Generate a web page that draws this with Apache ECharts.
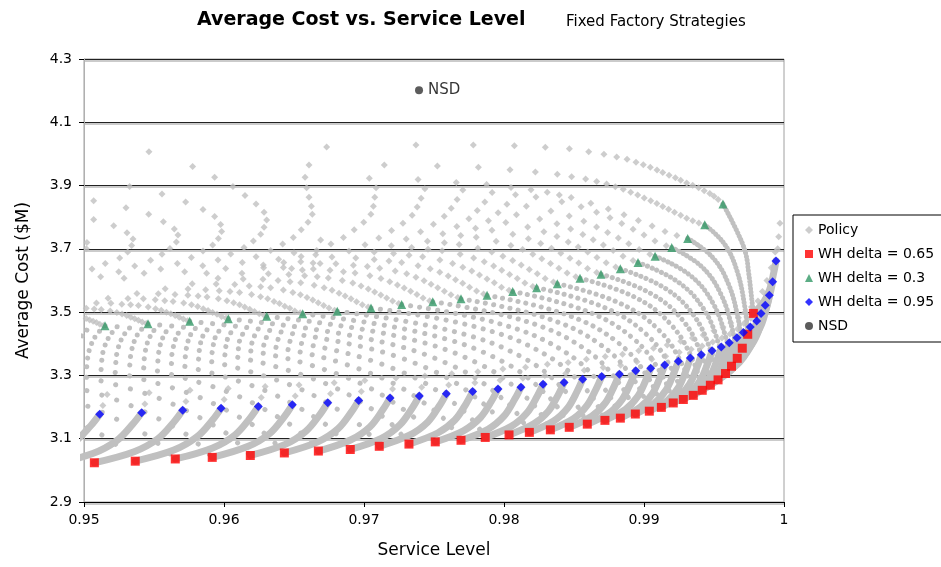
<!DOCTYPE html>
<html><head><meta charset="utf-8">
<script src="https://cdn.jsdelivr.net/npm/echarts/dist/echarts.min.js"></script>
<style>html,body{margin:0;padding:0;background:#fff}#c{width:941px;height:567px}</style>
</head><body><div id="c"></div><script>
// ---- coloured series ----
const redPoints = [[0.95074,3.024],[0.95366,3.029],[0.95652,3.036],[0.95916,3.041],[0.96188,3.047],[0.96431,3.055],[0.96674,3.061],[0.96902,3.066],[0.97109,3.076],[0.97321,3.083],[0.97509,3.090],[0.97693,3.095],[0.97866,3.104],[0.98036,3.112],[0.98181,3.120],[0.98331,3.128],[0.98466,3.136],[0.98595,3.146],[0.98721,3.158],[0.98831,3.165],[0.98938,3.178],[0.99038,3.187],[0.99124,3.199],[0.99209,3.213],[0.99281,3.224],[0.99352,3.237],[0.99416,3.253],[0.99474,3.269],[0.99529,3.286],[0.99582,3.306],[0.99625,3.329],[0.99666,3.354],[0.99702,3.386],[0.99741,3.430],[0.99781,3.496]];
const bluePoints = [[0.95112,3.177],[0.95412,3.182],[0.95705,3.190],[0.95979,3.196],[0.96245,3.202],[0.96488,3.207],[0.96741,3.214],[0.96962,3.221],[0.97186,3.229],[0.97395,3.235],[0.97588,3.242],[0.97776,3.249],[0.97957,3.257],[0.98121,3.263],[0.98279,3.272],[0.98429,3.278],[0.98562,3.288],[0.98698,3.297],[0.98824,3.304],[0.98941,3.315],[0.99048,3.323],[0.99148,3.333],[0.99245,3.345],[0.99331,3.355],[0.99409,3.365],[0.99486,3.378],[0.99552,3.390],[0.99609,3.403],[0.99664,3.419],[0.99710,3.436],[0.99759,3.453],[0.99805,3.472],[0.99836,3.496],[0.99866,3.522],[0.99895,3.553],[0.99919,3.596],[0.99943,3.662]];
const greenPoints = [[0.95150,3.457],[0.95457,3.463],[0.95755,3.471],[0.96031,3.479],[0.96305,3.487],[0.96562,3.495],[0.96809,3.503],[0.97050,3.513],[0.97269,3.524],[0.97491,3.533],[0.97693,3.542],[0.97879,3.553],[0.98062,3.565],[0.98233,3.577],[0.98381,3.590],[0.98543,3.607],[0.98693,3.620],[0.98831,3.637],[0.98957,3.657],[0.99079,3.677],[0.99198,3.704],[0.99312,3.733],[0.99434,3.776],[0.99564,3.842]];
const nsdPoint = [[0.97393,4.201]];

// ---- grey policy points: sparse upper-left area ----
const policyUpperLeft = [[0.95464,4.007],[0.95776,3.96],[0.95933,3.926],[0.96607,3.965],[0.96579,3.926],[0.9659,3.893],[0.96607,3.863],[0.96624,3.835],[0.96631,3.809],[0.966,3.784],[0.96552,3.76],[0.96495,3.736],[0.96419,3.715],[0.96333,3.695],[0.9669,3.728],[0.96655,3.681],[0.96686,3.654],
[0.95069,3.852],[0.95069,3.793],[0.95212,3.773],[0.95021,3.72],[0.95017,3.7],
[0.953,3.83],[0.95326,3.897],[0.95307,3.751],[0.9535,3.731],[0.9534,3.711],[0.95312,3.69],[0.95255,3.671],[0.95152,3.654],[0.95057,3.636],[0.95119,3.612],[0.95248,3.628],[0.95286,3.607],[0.95362,3.646],
[0.95557,3.873],[0.95462,3.809],[0.95567,3.786],[0.95645,3.763],[0.95671,3.744],[0.9566,3.722],[0.95614,3.701],[0.95557,3.683],[0.95476,3.664],[0.95429,3.623],[0.95548,3.636],[0.95667,3.654],[0.95719,3.628],
[0.95726,3.848],[0.9585,3.824],[0.95933,3.802],[0.95976,3.777],[0.95983,3.755],[0.9596,3.733],[0.95919,3.712],[0.9585,3.693],[0.95767,3.673],[0.95848,3.647],[0.95876,3.623],[0.95957,3.665],[0.96012,3.638],
[0.96064,3.897],[0.9615,3.869],[0.96229,3.842],[0.96286,3.816],[0.96305,3.791],[0.96286,3.768],[0.96262,3.746],[0.9621,3.725],[0.96143,3.704],[0.96048,3.684],[0.96131,3.657],[0.96229,3.675],[0.96281,3.649],[0.9639,3.667],[0.96424,3.641],[0.965,3.688],[0.96548,3.659],[0.9656,3.633]];

// ---- grey policy points: upper arcs, one per strategy, ending at the green point ----
const policyArcsHigh = [
[[0.96733,4.022],[0.97371,4.028],[0.97781,4.028],[0.98074,4.026],[0.98295,4.021],[0.98467,4.016],[0.98605,4.007],[0.98714,3.999],[0.98805,3.990],[0.98879,3.983],[0.98943,3.974],[0.98995,3.966],[0.99045,3.958],[0.99093,3.949],[0.99134,3.941],[0.99179,3.933],[0.99224,3.925],[0.99262,3.917],[0.99305,3.908],[0.99348,3.901],[0.9939,3.893],[0.9943,3.884],[0.9947,3.875],[0.995,3.866],[0.9953,3.856]],
[[0.97145,3.965],[0.97524,3.962],[0.97817,3.958],[0.98043,3.950],[0.98224,3.943],[0.98381,3.936],[0.98483,3.928],[0.98583,3.921],[0.98662,3.913],[0.98733,3.905],[0.98795,3.896],[0.98852,3.888],[0.98905,3.879],[0.98955,3.870],[0.99002,3.861],[0.99048,3.852],[0.99092,3.843],[0.99134,3.834],[0.99176,3.825],[0.99218,3.816],[0.99262,3.806],[0.99305,3.797],[0.99348,3.789],[0.99392,3.782]],
[[0.97038,3.923],[0.97386,3.919],[0.97659,3.910],[0.97876,3.903],[0.9805,3.894],[0.98193,3.887],[0.98309,3.879],[0.98395,3.870],[0.9848,3.862],[0.9862,3.844],[0.98745,3.826],[0.98857,3.808],[0.9896,3.79],[0.99058,3.772],[0.9915,3.755],[0.99235,3.742]],
[[0.97086,3.893],[0.97435,3.89],[0.97706,3.886],[0.97915,3.878],[0.98082,3.871],[0.98228,3.864],[0.98413,3.849],[0.98551,3.833],[0.98661,3.816],[0.98757,3.798],[0.98841,3.78],[0.98922,3.762],[0.99,3.744],[0.99078,3.725],[0.99159,3.71]],
[[0.97077,3.863],[0.97408,3.86],[0.97665,3.856],[0.97863,3.848],[0.98021,3.841],[0.9816,3.835],[0.98335,3.82],[0.98466,3.804],[0.9857,3.787],[0.98661,3.769],[0.9874,3.752],[0.98817,3.734],[0.98891,3.716],[0.98965,3.698],[0.99042,3.683]],
[[0.97067,3.835],[0.9738,3.832],[0.97623,3.828],[0.97809,3.821],[0.97958,3.814],[0.98089,3.808],[0.98255,3.794],[0.98378,3.779],[0.98476,3.763],[0.98563,3.745],[0.98637,3.729],[0.9871,3.712],[0.9878,3.695],[0.9885,3.677],[0.98922,3.663]],
[[0.97049,3.809],[0.97344,3.806],[0.97573,3.803],[0.97749,3.795],[0.97889,3.789],[0.98013,3.783],[0.98169,3.769],[0.98285,3.754],[0.98378,3.739],[0.98459,3.722],[0.9853,3.706],[0.98598,3.69],[0.98664,3.673],[0.9873,3.656],[0.98798,3.643]],
[[0.96998,3.784],[0.97278,3.781],[0.97496,3.778],[0.97663,3.771],[0.97797,3.765],[0.97914,3.759],[0.98063,3.746],[0.98174,3.732],[0.98262,3.717],[0.98339,3.702],[0.98406,3.686],[0.98471,3.67],[0.98534,3.655],[0.98597,3.638],[0.98662,3.625]],
[[0.9693,3.76],[0.97197,3.758],[0.97404,3.754],[0.97563,3.748],[0.97691,3.742],[0.97802,3.737],[0.97944,3.724],[0.98049,3.711],[0.98133,3.698],[0.98206,3.683],[0.9827,3.669],[0.98332,3.654],[0.98392,3.639],[0.98451,3.624],[0.98513,3.612]],
[[0.96853,3.736],[0.97106,3.734],[0.97302,3.731],[0.97453,3.724],[0.97574,3.719],[0.9768,3.714],[0.97813,3.702],[0.97913,3.69],[0.97992,3.677],[0.98062,3.663],[0.98123,3.649],[0.98181,3.635],[0.98238,3.621],[0.98294,3.606],[0.98353,3.595]],
[[0.96764,3.715],[0.97007,3.713],[0.97195,3.71],[0.9734,3.704],[0.97457,3.699],[0.97558,3.694],[0.97687,3.683],[0.97783,3.671],[0.97859,3.659],[0.97926,3.646],[0.97984,3.632],[0.9804,3.619],[0.98095,3.606],[0.98149,3.592],[0.98206,3.581]],
[[0.96662,3.695],[0.96893,3.693],[0.97073,3.69],[0.97211,3.685],[0.97322,3.68],[0.97419,3.675],[0.97542,3.665],[0.97633,3.654],[0.97706,3.642],[0.9777,3.63],[0.97825,3.617],[0.97879,3.605],[0.97931,3.593],[0.97982,3.579],[0.98036,3.569]]
];
const policyArcsLow = [
[[0.96551,3.676],[0.96771,3.674],[0.96941,3.671],[0.97073,3.666],[0.97178,3.662],[0.97269,3.657],[0.97386,3.647],[0.97473,3.637],[0.97541,3.626],[0.97602,3.614],[0.97654,3.602],[0.97705,3.591],[0.97754,3.579],[0.97804,3.567],[0.97854,3.557]],
[[0.96427,3.657],[0.96636,3.655],[0.96799,3.653],[0.96924,3.648],[0.97024,3.644],[0.97112,3.639],[0.97223,3.63],[0.97305,3.621],[0.97371,3.61],[0.97429,3.599],[0.97479,3.588],[0.97527,3.577],[0.97574,3.566],[0.97621,3.555],[0.9767,3.546]],
[[0.96283,3.64],[0.96483,3.638],[0.96638,3.636],[0.96757,3.632],[0.96853,3.628],[0.96936,3.624],[0.97042,3.615],[0.97121,3.606],[0.97184,3.596],[0.97239,3.586],[0.97287,3.576],[0.97333,3.566],[0.97378,3.556],[0.97422,3.545],[0.97469,3.536]],
[[0.96128,3.623],[0.96317,3.621],[0.96463,3.619],[0.96576,3.615],[0.96666,3.612],[0.96745,3.608],[0.96845,3.6],[0.9692,3.592],[0.96979,3.583],[0.97031,3.573],[0.97076,3.564],[0.9712,3.554],[0.97162,3.545],[0.97204,3.535],[0.97248,3.527]],
[[0.95957,3.607],[0.96137,3.605],[0.96278,3.604],[0.96386,3.6],[0.96472,3.596],[0.96548,3.593],[0.96644,3.585],[0.96715,3.577],[0.96772,3.569],[0.96822,3.56],[0.96865,3.551],[0.96907,3.542],[0.96947,3.533],[0.96988,3.523],[0.9703,3.516]],
[[0.95773,3.59],[0.95944,3.589],[0.96077,3.587],[0.9618,3.583],[0.96262,3.58],[0.96333,3.577],[0.96424,3.57],[0.96492,3.562],[0.96546,3.555],[0.96593,3.546],[0.96634,3.538],[0.96673,3.53],[0.96712,3.521],[0.9675,3.513],[0.9679,3.506]],
[[0.9558,3.574],[0.95743,3.573],[0.95869,3.571],[0.95966,3.568],[0.96043,3.565],[0.96111,3.562],[0.96197,3.556],[0.96261,3.549],[0.96312,3.542],[0.96357,3.534],[0.96396,3.527],[0.96434,3.519],[0.9647,3.512],[0.96506,3.504],[0.96544,3.498]],
[[0.95378,3.559],[0.95531,3.558],[0.9565,3.556],[0.95742,3.553],[0.95815,3.551],[0.95879,3.548],[0.9596,3.542],[0.96021,3.536],[0.96069,3.53],[0.96111,3.523],[0.96148,3.516],[0.96184,3.509],[0.96218,3.502],[0.96252,3.495],[0.96288,3.489]],
[[0.95172,3.544],[0.95314,3.543],[0.95424,3.542],[0.95509,3.539],[0.95577,3.536],[0.95636,3.534],[0.95712,3.529],[0.95768,3.523],[0.95812,3.518],[0.95852,3.511],[0.95886,3.505],[0.95919,3.499],[0.9595,3.493],[0.95982,3.486],[0.96015,3.481]],
[[0.95089,3.529],[0.95192,3.528],[0.9527,3.525],[0.95333,3.523],[0.95389,3.521],[0.95459,3.516],[0.95511,3.511],[0.95552,3.506],[0.95589,3.5],[0.9562,3.495],[0.95651,3.489],[0.9568,3.484],[0.9571,3.478],[0.9574,3.473]],
[[0.95016,3.512],[0.95073,3.51],[0.95123,3.508],[0.95187,3.504],[0.95235,3.499],[0.95272,3.494],[0.95305,3.489],[0.95334,3.484],[0.95362,3.479],[0.95389,3.474],[0.95416,3.469],[0.95444,3.464]],
[[0.95015,3.48],[0.9504,3.475],[0.95065,3.471],[0.95089,3.467],[0.95113,3.462],[0.95138,3.458]]
];
// ---- grey policy points above each blue point ----
const policyTails = [[0.95135,3.205],[0.95165,3.24],[0.95435,3.21],[0.95465,3.245],[0.95728,3.218],[0.95757,3.253],[0.96001,3.224],[0.9603,3.259],[0.96266,3.23],[0.96294,3.265],[0.96509,3.235],[0.96536,3.27],[0.96761,3.242],[0.96787,3.277],[0.96981,3.249],[0.97006,3.284],[0.97204,3.257],[0.97228,3.292],[0.97412,3.263],[0.97435,3.298],[0.97605,3.27],[0.97627,3.305],[0.97792,3.277],[0.97813,3.312],[0.97972,3.285],[0.97992,3.32],[0.98135,3.291],[0.98154,3.326],[0.98292,3.3],[0.9831,3.335],[0.98441,3.306],[0.98458,3.341],[0.98573,3.316],[0.98589,3.351],[0.98708,3.325],[0.98723,3.36],[0.98833,3.332],[0.98847,3.367],[0.98949,3.343],[0.98962,3.378],[0.99056,3.351],[0.99068,3.386],[0.99155,3.361],[0.99166,3.396],[0.99252,3.373],[0.99262,3.408],[0.99337,3.383],[0.99346,3.418],[0.99415,3.393],[0.99423,3.428],[0.99491,3.406],[0.99499,3.441],[0.99557,3.418],[0.99564,3.453],[0.99614,3.431],[0.9962,3.466],[0.99668,3.447],[0.99674,3.482],[0.99714,3.464],[0.9972,3.499],[0.99763,3.481],[0.99768,3.516],[0.99809,3.5],[0.99814,3.535],[0.9984,3.526],[0.99846,3.565],[0.99871,3.555],[0.99878,3.6],[0.99901,3.59],[0.99909,3.64],[0.99927,3.64],[0.99937,3.69],[0.99955,3.70],[0.99962,3.738],[0.99971,3.781]];

// ---- grey policy curves: green (delta 0.3) down to red (delta 0.65) ----
const policyMiddle = [
[[0.912,3.38],[0.92943,3.319],[0.94106,3.23],[0.94803,3.113],[0.95074,3.024]],
[[0.916,3.387],[0.93295,3.326],[0.94425,3.237],[0.95102,3.118],[0.95366,3.029]],
[[0.92,3.394],[0.93643,3.333],[0.94739,3.244],[0.95396,3.125],[0.95652,3.036]],
[[0.9239,3.401],[0.93977,3.34],[0.95035,3.25],[0.95669,3.131],[0.95916,3.041]],
[[0.9277,3.408],[0.94308,3.347],[0.95334,3.257],[0.95949,3.137],[0.96188,3.047]],
[[0.9314,3.415],[0.94621,3.354],[0.95608,3.264],[0.96201,3.145],[0.96431,3.055]],
[[0.935,3.422],[0.94928,3.361],[0.95881,3.27],[0.96452,3.151],[0.96674,3.061]],
[[0.9385,3.429],[0.95223,3.367],[0.96139,3.277],[0.96688,3.157],[0.96902,3.066]],
[[0.9419,3.436],[0.95504,3.375],[0.96379,3.285],[0.96905,3.166],[0.97109,3.076]],
[[0.9452,3.443],[0.9578,3.382],[0.96621,3.292],[0.97125,3.173],[0.97321,3.083]],
[[0.9484,3.45],[0.96041,3.389],[0.96842,3.299],[0.97322,3.18],[0.97509,3.09]],
[[0.9515,3.457],[0.96294,3.395],[0.97057,3.305],[0.97515,3.185],[0.97693,3.095]],
[[0.95457,3.463],[0.96541,3.402],[0.97264,3.312],[0.97697,3.194],[0.97866,3.104]],
[[0.95755,3.471],[0.96781,3.41],[0.97466,3.32],[0.97876,3.202],[0.98036,3.112]],
[[0.96031,3.479],[0.97,3.418],[0.97644,3.328],[0.98031,3.21],[0.98181,3.12]],
[[0.96305,3.487],[0.97217,3.426],[0.97825,3.336],[0.98189,3.218],[0.98331,3.128]],
[[0.96562,3.495],[0.97419,3.434],[0.9799,3.344],[0.98333,3.226],[0.98466,3.136]],
[[0.96809,3.503],[0.97613,3.442],[0.98149,3.353],[0.9847,3.235],[0.98595,3.146]],
[[0.9705,3.513],[0.97802,3.453],[0.98303,3.364],[0.98604,3.247],[0.98721,3.158]],
[[0.97269,3.524],[0.97972,3.463],[0.9844,3.373],[0.98722,3.255],[0.98831,3.165]],
[[0.97491,3.533],[0.98142,3.473],[0.98576,3.384],[0.98837,3.267],[0.98938,3.178]],
[[0.97693,3.542],[0.98298,3.482],[0.98702,3.393],[0.98944,3.276],[0.99038,3.187]],
[[0.97879,3.553],[0.9844,3.493],[0.98813,3.404],[0.99037,3.288],[0.99124,3.199]],
[[0.98062,3.565],[0.98578,3.505],[0.98922,3.417],[0.99129,3.301],[0.99209,3.213]],
[[0.98233,3.577],[0.98705,3.517],[0.99019,3.429],[0.99208,3.312],[0.99281,3.224]],
[[0.98381,3.59],[0.98818,3.53],[0.99109,3.442],[0.99284,3.325],[0.99352,3.237]],
[[0.98543,3.607],[0.98936,3.547],[0.99198,3.458],[0.99355,3.342],[0.99416,3.253]],
[[0.98693,3.62],[0.99044,3.56],[0.99279,3.473],[0.99419,3.357],[0.99474,3.269]],
[[0.98831,3.637],[0.99145,3.577],[0.99355,3.49],[0.9948,3.374],[0.99529,3.286]],
[[0.98957,3.657],[0.99238,3.597],[0.99426,3.51],[0.99538,3.394],[0.99582,3.306]],
[[0.99079,3.677],[0.99325,3.618],[0.99489,3.531],[0.99587,3.416],[0.99625,3.329]],
[[0.99198,3.704],[0.99409,3.645],[0.99549,3.557],[0.99633,3.442],[0.99666,3.354]],
[[0.99312,3.733],[0.99488,3.674],[0.99605,3.587],[0.99675,3.473],[0.99702,3.386]],
[[0.99434,3.776],[0.99572,3.717],[0.99664,3.631],[0.9972,3.517],[0.99741,3.43]],
[[0.99564,3.842],[0.99671,3.749],[0.99726,3.686],[0.99748,3.623],[0.99765,3.56],[0.99781,3.496]]
];
// ---- grey policy bands: red (delta 0.65) up to blue (delta 0.95) ----
const policyBands = [
[[0.94474,3.015],[0.9476,3.049],[0.94933,3.09],[0.95048,3.141],[0.95112,3.177]],
[[0.94776,3.019],[0.95062,3.053],[0.95234,3.094],[0.95348,3.146],[0.95412,3.182]],
[[0.95074,3.024],[0.95358,3.059],[0.95528,3.1],[0.95642,3.153],[0.95705,3.19]],
[[0.95366,3.029],[0.95642,3.064],[0.95807,3.106],[0.95918,3.159],[0.95979,3.196]],
[[0.95652,3.036],[0.95919,3.071],[0.96079,3.112],[0.96186,3.165],[0.96245,3.202]],
[[0.95916,3.041],[0.96173,3.076],[0.96328,3.117],[0.96431,3.17],[0.96488,3.207]],
[[0.96188,3.047],[0.96437,3.082],[0.96586,3.124],[0.96686,3.177],[0.96741,3.214]],
[[0.96431,3.055],[0.9667,3.09],[0.96813,3.131],[0.96909,3.184],[0.96962,3.221]],
[[0.96674,3.061],[0.96904,3.096],[0.97043,3.138],[0.97135,3.192],[0.97186,3.229]],
[[0.96902,3.066],[0.97124,3.101],[0.97257,3.144],[0.97346,3.198],[0.97395,3.235]],
[[0.97109,3.076],[0.97325,3.111],[0.97454,3.152],[0.9754,3.205],[0.97588,3.242]],
[[0.97321,3.083],[0.97526,3.118],[0.97649,3.159],[0.97731,3.212],[0.97776,3.249]],
[[0.97509,3.09],[0.9771,3.125],[0.97832,3.167],[0.97912,3.22],[0.97957,3.257]],
[[0.97693,3.095],[0.97886,3.13],[0.98001,3.172],[0.98078,3.226],[0.98121,3.263]],
[[0.97866,3.104],[0.98052,3.139],[0.98163,3.181],[0.98238,3.235],[0.98279,3.272]],
[[0.98036,3.112],[0.98213,3.147],[0.98319,3.188],[0.9839,3.241],[0.98429,3.278]],
[[0.98181,3.12],[0.98352,3.155],[0.98455,3.197],[0.98524,3.251],[0.98562,3.288]],
[[0.98331,3.128],[0.98496,3.163],[0.98595,3.206],[0.98661,3.26],[0.98698,3.297]],
[[0.98466,3.136],[0.98627,3.171],[0.98724,3.213],[0.98788,3.267],[0.98824,3.304]],
[[0.98595,3.146],[0.9875,3.181],[0.98844,3.224],[0.98906,3.278],[0.98941,3.315]],
[[0.98721,3.158],[0.98868,3.193],[0.98956,3.234],[0.99015,3.287],[0.99048,3.323]],
[[0.98831,3.165],[0.98974,3.2],[0.9906,3.242],[0.99116,3.296],[0.99148,3.333]],
[[0.98938,3.178],[0.99076,3.213],[0.99159,3.255],[0.99214,3.308],[0.99245,3.345]],
[[0.99038,3.187],[0.9917,3.222],[0.99249,3.264],[0.99302,3.318],[0.99331,3.355]],
[[0.99124,3.199],[0.99252,3.234],[0.99329,3.275],[0.99381,3.328],[0.99409,3.365]],
[[0.99209,3.213],[0.99334,3.248],[0.99408,3.289],[0.99458,3.342],[0.99486,3.378]],
[[0.99281,3.224],[0.99403,3.259],[0.99476,3.3],[0.99525,3.353],[0.99552,3.39]],
[[0.99352,3.237],[0.99468,3.272],[0.99537,3.313],[0.99583,3.366],[0.99609,3.403]],
[[0.99416,3.253],[0.99528,3.288],[0.99595,3.329],[0.99639,3.382],[0.99664,3.419]],
[[0.99474,3.269],[0.9958,3.304],[0.99644,3.346],[0.99686,3.399],[0.9971,3.436]],
[[0.99529,3.286],[0.99633,3.321],[0.99695,3.363],[0.99736,3.416],[0.99759,3.453]],
[[0.99582,3.306],[0.99682,3.341],[0.99743,3.382],[0.99783,3.435],[0.99805,3.472]],
[[0.99625,3.329],[0.9972,3.364],[0.99777,3.406],[0.99815,3.459],[0.99836,3.496]],
[[0.99666,3.354],[0.99756,3.389],[0.9981,3.431],[0.99846,3.485],[0.99866,3.522]],
[[0.99702,3.386],[0.99789,3.421],[0.99841,3.463],[0.99876,3.516],[0.99895,3.553]],
[[0.99741,3.43],[0.99821,3.465],[0.99869,3.506],[0.99901,3.559],[0.99919,3.596]],
[[0.99781,3.496],[0.99854,3.531],[0.99898,3.572],[0.99927,3.625],[0.99943,3.662]]
];

const xTicks = {min:0.95, max:1, interval:0.01};
const yTicks = {min:2.9, max:4.3, interval:0.2};
const GREY = '#C0C0C0';
const FONT = 'DejaVu Sans';

const chart = echarts.init(document.getElementById('c'));
const series = [];
policyBands.forEach(b => series.push({type:'line', data:b, smooth:0.35, symbol:'none', silent:true, z:1,
  lineStyle:{color:GREY, width:7, cap:'round', join:'round'}, emphasis:{disabled:true}, animation:false}));
policyMiddle.forEach((m,i) => {
  const gap = Math.max(3.5, 17 - 0.4*(i+1));
  series.push({type:'line', data:m, smooth:0.4, symbol:'none', silent:true, z:1,
    lineStyle:{color:GREY, width:5, type:[0.1, gap], cap:'round'}, emphasis:{disabled:true}, animation:false});
});
series.push({name:'Policy', type:'scatter', symbol:'diamond', symbolSize:7, z:2, silent:true,
  itemStyle:{color:GREY}, data:[].concat(policyUpperLeft, ...policyArcsHigh, ...policyArcsLow, policyTails)});
series.push({name:'WH delta = 0.65', type:'scatter', symbol:'rect', symbolSize:9, z:5, itemStyle:{color:'#FF0000'}, data:redPoints});
series.push({name:'WH delta = 0.3', type:'scatter', symbol:'triangle', symbolSize:9, z:5, itemStyle:{color:'#339966'}, data:greenPoints});
series.push({name:'WH delta = 0.95', type:'scatter', symbol:'diamond', symbolSize:9, z:5, itemStyle:{color:'#0000FF'}, data:bluePoints});
series.push({name:'NSD', type:'scatter', symbol:'circle', symbolSize:8, z:5, itemStyle:{color:'#333333'}, data:nsdPoint,
  label:{show:true, position:'right', distance:5, formatter:'NSD', fontFamily:FONT, fontSize:15, color:'#000'}});

chart.setOption({
  animation:false,
  backgroundColor:'#fff',
  title:[
    {text:'Average Cost vs. Service Level', left:197, top:11, padding:0,
     textStyle:{fontFamily:FONT, fontWeight:'bold', fontSize:19, color:'#000'}},
    {text:'Fixed Factory Strategies', left:566, top:15, padding:0,
     textStyle:{fontFamily:FONT, fontWeight:'normal', fontSize:15, color:'#000'}}
  ],
  grid:{left:84, top:59, width:700, height:443, show:true, borderColor:'#a0a0a0', borderWidth:1, backgroundColor:'#fff'},
  legend:{orient:'vertical', left:793, top:215, padding:[8,30,9,12], itemWidth:8, itemHeight:8, itemGap:10,
    borderColor:'#000', borderWidth:1, backgroundColor:'#fff',
    textStyle:{fontFamily:FONT, fontSize:14, color:'#000'},
    data:[{name:'Policy', icon:'diamond'},{name:'WH delta = 0.65', icon:'rect'},{name:'WH delta = 0.3', icon:'triangle'},{name:'WH delta = 0.95', icon:'diamond'},{name:'NSD', icon:'circle'}]},
  xAxis:{type:'value', min:xTicks.min, max:xTicks.max, interval:xTicks.interval,
    name:'Service Level', nameLocation:'middle', nameGap:40,
    nameTextStyle:{fontFamily:FONT, fontSize:17, color:'#000'},
    axisLine:{show:true, onZero:false, lineStyle:{color:'#000', width:1}},
    axisTick:{show:true, length:5, lineStyle:{color:'#000'}},
    axisLabel:{fontFamily:FONT, fontSize:14, color:'#000', margin:11, formatter:v => (Math.abs(v-1)<1e-9 ? '1' : v.toFixed(2))},
    splitLine:{show:false}},
  yAxis:{type:'value', min:yTicks.min, max:yTicks.max, interval:yTicks.interval,
    name:'Average Cost ($M)', nameLocation:'middle', nameGap:52, nameRotate:90,
    nameTextStyle:{fontFamily:FONT, fontSize:17, color:'#000'},
    axisLine:{show:true, onZero:false, lineStyle:{color:'#b0b0b0', width:1}},
    axisTick:{show:true, length:5, lineStyle:{color:'#000'}},
    axisLabel:{fontFamily:FONT, fontSize:14, color:'#000', margin:12, formatter:v => v.toFixed(1)},
    splitLine:{show:true, lineStyle:{color:'#222', width:1, shadowColor:'rgba(140,140,140,0.9)', shadowOffsetY:1.5, shadowBlur:0}}},
  series: series
});
</script></body></html>
